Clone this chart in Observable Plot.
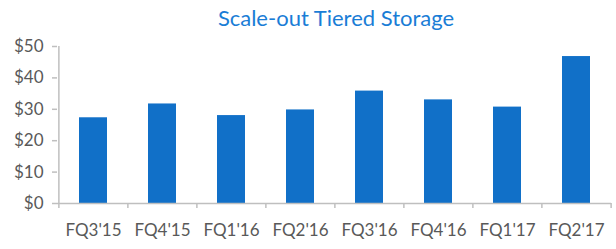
<!DOCTYPE html>
<html>
<head>
<meta charset="utf-8">
<script src="https://cdn.jsdelivr.net/npm/d3@7"></script>
<script src="https://cdn.jsdelivr.net/npm/@observablehq/plot@0.6"></script>
<style>
  html, body { margin: 0; padding: 0; background: #fff; }
  #title { box-sizing: border-box; width: 616px; padding-left: 56px; height: 35px; line-height: 35px; text-align: center;
           font-family: Lato, "Open Sans", sans-serif; font-size: 22px; color: #1a7dd6; white-space: nowrap; }
</style>
</head>
<body>
<div id="title">Scale-out Tiered Storage</div>
<div id="chart"></div>
<script>
const categories = ["FQ3'15", "FQ4'15", "FQ1'16", "FQ2'16", "FQ3'16", "FQ4'16", "FQ1'17", "FQ2'17"];
const values = [27.3, 31.7, 28.0, 29.8, 35.8, 33.0, 30.7, 46.8];
const yTicks = [0, 10, 20, 30, 40, 50];

const data = categories.map((c, i) => ({quarter: c, value: values[i]}));

const width = 616, marginLeft = 57, marginRight = 5;
const step = (width - marginLeft - marginRight) / categories.length;
const axisColor = "#bfbfbf";

const chart = Plot.plot({
  width,
  height: 214,
  marginLeft,
  marginRight,
  marginTop: 11,
  marginBottom: 46,
  style: {fontFamily: "Lato, 'Open Sans', sans-serif", fontSize: "17px", color: "#595959", background: "#fff"},
  x: {domain: categories, paddingInner: 0.6, paddingOuter: 0.3},
  y: {domain: [0, 50]},
  marks: [
    Plot.barY(data, {x: "quarter", y: "value", fill: "#1170c8"}),
    Plot.ruleY([0], {stroke: axisColor, strokeWidth: 1.5}),
    Plot.ruleX([categories[0]], {x: d => d, dx: -step / 2, y1: 0, y2: 50, stroke: axisColor, strokeWidth: 1.5}),
    Plot.ruleX(categories, {x: d => d, dx: -step / 2, y1: 0, y2: 0, insetBottom: -5, stroke: axisColor, strokeWidth: 1.5}),
    Plot.ruleX([categories[categories.length - 1]], {x: d => d, dx: step / 2, y1: 0, y2: 0, insetBottom: -5, stroke: axisColor, strokeWidth: 1.5}),
    Plot.axisY({ticks: yTicks, tickFormat: d => "$" + d, tickSize: 5, tickPadding: 9, stroke: axisColor, strokeWidth: 1.5, fill: "#595959", label: null}),
    Plot.axisX({tickSize: 0, tickPadding: 20, fill: "#595959", label: null})
  ]
});
document.getElementById("chart").appendChild(chart);
</script>
</body>
</html>
